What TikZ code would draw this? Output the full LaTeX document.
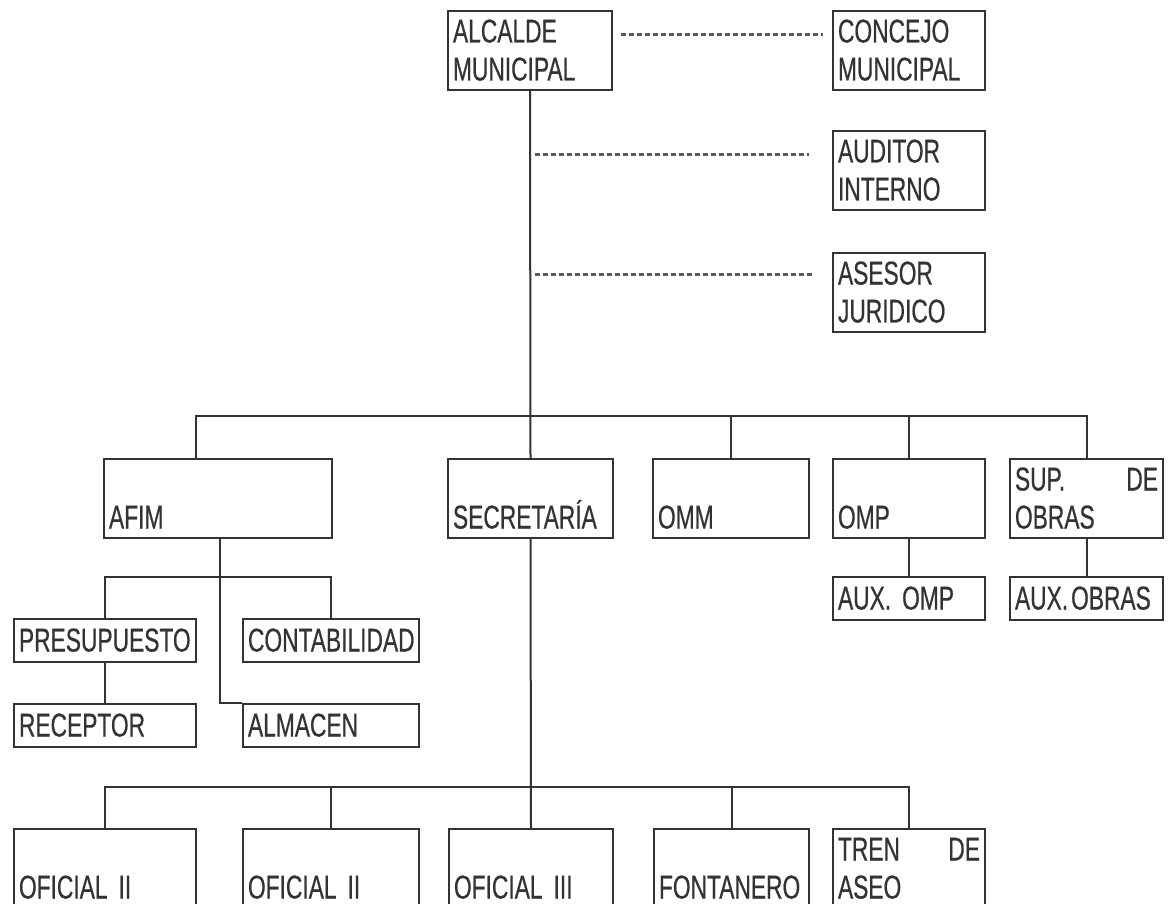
\documentclass[tikz,border=0pt]{standalone}
\usepackage{fontspec}
\setmainfont{Liberation Sans}[FakeStretch=0.69,FakeBold=0.5,WordSpace=0.6]
\newcommand\boxstrut{\rule[-5pt]{0pt}{32pt}}
\begin{document}
\begin{tikzpicture}[x=1pt,y=-1pt,
  every node/.style={font=\fontsize{33pt}{38pt}\selectfont,text=black!80},
  box/.style={draw=black!80,line width=2pt,anchor=north west,align=left,inner xsep=5pt,inner ysep=0pt,text width=#1},
  tall/.style={minimum height=79pt},
  low/.style={minimum height=43pt},
  link/.style={draw=black!80,line width=2pt},
  dots/.style={draw=black!65,line width=2.2pt,dash pattern=on 5pt off 3pt}]
\useasboundingbox (0,0) rectangle (1168,904);
% cabeza
\node[box=154pt,tall] (alc) at (447,10) {\boxstrut ALCALDE\\\boxstrut MUNICIPAL};
\node[box=142pt,tall] (con) at (832,10) {\boxstrut CONCEJO\\\boxstrut MUNICIPAL};
\node[box=142pt,tall] (aud) at (832,130) {\boxstrut AUDITOR\\\boxstrut INTERNO};
\node[box=142pt,tall] (ase) at (832,252) {\boxstrut ASESOR\\\boxstrut JURIDICO};
% segundo nivel
\node[box=218pt,tall] (afim) at (103,458) {\boxstrut\\\boxstrut AFIM};
\node[box=155pt,tall] (sec) at (447,458) {\boxstrut\\\boxstrut SECRETARÍA};
\node[box=146pt,tall] (omm) at (652,458) {\boxstrut\\\boxstrut OMM};
\node[box=142pt,tall] (omp) at (832,458) {\boxstrut\\\boxstrut OMP};
\node[box=143pt,tall] (sup) at (1009,458) {\leavevmode\hbox to\hsize{\boxstrut SUP.\hfill DE}\\\boxstrut OBRAS};
\node[box=142pt,low] (auxomp) at (832,576) {\boxstrut\mbox{AUX. OMP}};
\node[box=143pt,low] (auxobr) at (1009,576) {\boxstrut\mbox{AUX.\hspace{3pt}OBRAS}};
% AFIM
\node[box=172pt,low] (pre) at (13,618) {\boxstrut PRESUPUESTO};
\node[box=166pt,low] (cont) at (242,618) {\boxstrut CONTABILIDAD};
\node[box=172pt,low] (rec) at (13,703) {\boxstrut RECEPTOR};
\node[box=166pt,low] (alm) at (242,703) {\boxstrut ALMACEN};
% secretaria
\node[box=172pt,tall] (of1) at (13,828) {\boxstrut\\\boxstrut OFICIAL II};
\node[box=166pt,tall] (of2) at (242,828) {\boxstrut\\\boxstrut OFICIAL II};
\node[box=154pt,tall] (of3) at (448,828) {\boxstrut\\\boxstrut OFICIAL III};
\node[box=145pt,tall] (fon) at (653,828) {\boxstrut\\\boxstrut FONTANERO};
\node[box=142pt,tall] (tren) at (832,828) {\leavevmode\hbox to\hsize{\boxstrut TREN\hfill DE}\\\boxstrut ASEO};
\coordinate (bus) at (529,416);
\coordinate (afbus) at (217,577);
\coordinate (bot) at (529,787);
% lineas
\draw[link] (alc.south) -- (sec.north);
\draw[link] ([xshift=-22pt]afim.north) |- (sup.north |- bus) -- (sup.north);
\draw[link] (omm.north) -- (omm.north |- bus);
\draw[link] (omp.north) -- (omp.north |- bus);
\draw[link] (omp.south) -- (auxomp.north);
\draw[link] (sup.south) -- (auxobr.north);
\draw[link] (pre.north) |- (cont.north |- afbus) -- (cont.north);
\draw[link] ([xshift=2pt]afim.south) |- (alm.north west);
\draw[link] (pre.south) -- (rec.north);
\draw[link] (sec.south) -- (of3.north);
\draw[link] (of1.north) |- (tren.north |- bot) -- (tren.north);
\draw[link] (of2.north) -- (of2.north |- bot);
\draw[link] (fon.north) -- (fon.north |- bot);
\draw[dots] ([xshift=8pt,yshift=16pt]alc.east) -- ([xshift=-9pt,yshift=16pt]con.west);
\draw[dots] ([xshift=5pt,yshift=16pt]aud.west -| alc.south) -- ([xshift=-23pt,yshift=16pt]aud.west);
\draw[dots] ([xshift=5pt,yshift=18pt]ase.west -| alc.south) -- ([xshift=-18pt,yshift=18pt]ase.west);
\end{tikzpicture}
\end{document}
